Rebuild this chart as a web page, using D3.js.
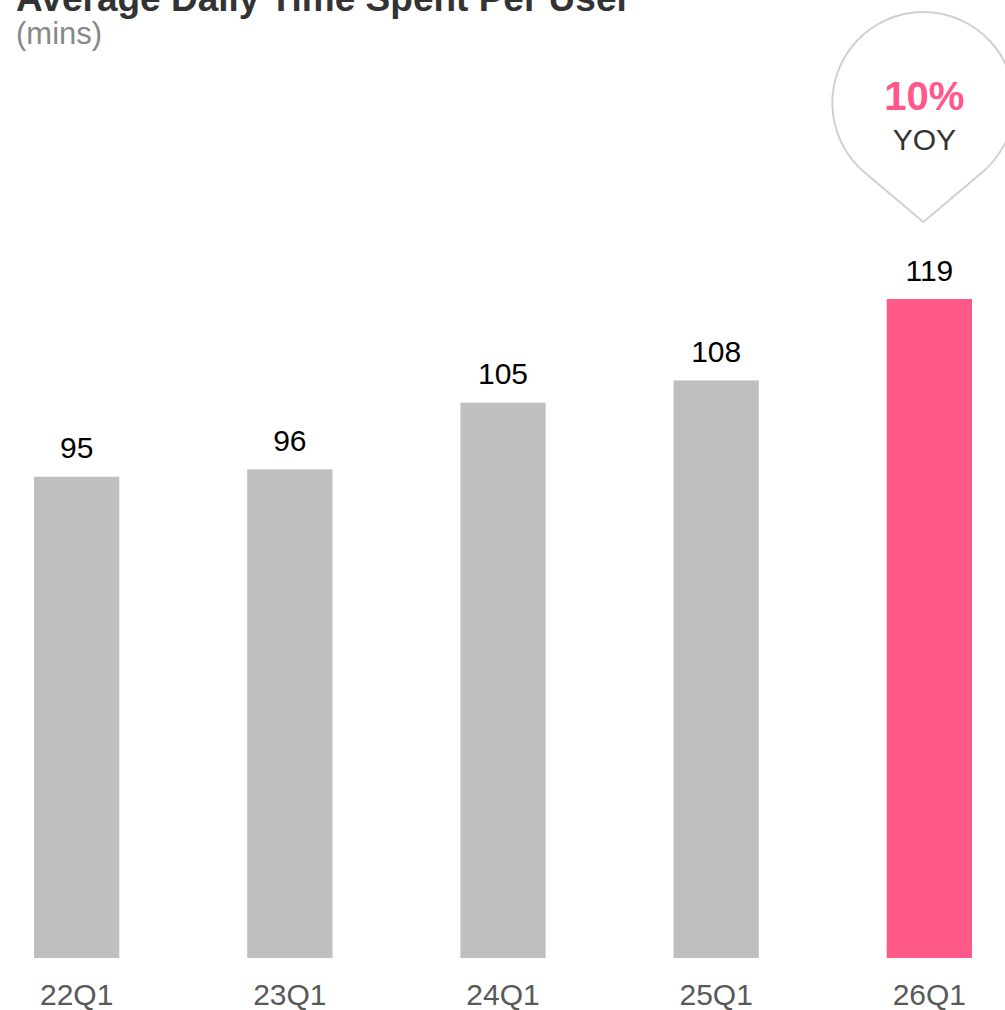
<!DOCTYPE html>
<html>
<head>
<meta charset="utf-8">
<script src="https://cdn.jsdelivr.net/npm/d3@7"></script>
<style>
  html, body { margin: 0; padding: 0; background: #fff; }
  svg { display: block; font-family: "Liberation Sans", Arial, sans-serif; }
</style>
</head>
<body>
<svg id="chart" width="1005" height="1010"></svg>
<script>
// Average daily time spent per user, by first quarter
const quarters = ["22Q1", "23Q1", "24Q1", "25Q1", "26Q1"];
const minutes = [95, 96, 105, 108, 119];
const highlightQuarter = "26Q1";
const yoyLabel = "10%";
const yoyText = "YOY";
const titleText = "Average Daily Time Spent Per User";
const unitText = "(mins)";

const W = 1005, H = 1010;
const svg = d3.select("#chart");

const x = d3.scaleBand()
  .domain(quarters)
  .range([12.7, 993.3])
  .paddingInner(0.6)
  .paddingOuter(0.1);

// value axis starts above zero, as in the original deck
const y = d3.scaleLinear()
  .domain([30, 150])
  .range([958, 69.5]);

// title (running off the top edge of the slide crop) and unit
svg.append("text")
  .attr("x", 16).attr("y", 11)
  .attr("font-size", 37).attr("font-weight", "bold")
  .attr("fill", "#333333")
  .text(titleText);

svg.append("text")
  .attr("x", 16).attr("y", 43.5)
  .attr("font-size", 31)
  .attr("fill", "#888888")
  .text(unitText);

const data = quarters.map((q, i) => ({ q, v: minutes[i] }));

svg.append("g").selectAll("rect")
  .data(data)
  .join("rect")
  .attr("x", d => x(d.q))
  .attr("width", x.bandwidth())
  .attr("y", d => y(d.v))
  .attr("height", d => y.range()[0] - y(d.v))
  .attr("fill", d => d.q === highlightQuarter ? "#FF5889" : "#BFBFBF");

// value labels
svg.append("g").selectAll("text")
  .data(data)
  .join("text")
  .attr("x", d => x(d.q) + x.bandwidth() / 2)
  .attr("y", d => y(d.v) - 18.5)
  .attr("text-anchor", "middle")
  .attr("font-size", 30)
  .attr("fill", "#000000")
  .text(d => d.v);

// category axis
const xAxis = svg.append("g")
  .attr("transform", "translate(0,958)")
  .call(d3.axisBottom(x).tickSize(0).tickPadding(0));
xAxis.select(".domain").remove();
xAxis.selectAll("text")
  .attr("y", 47)
  .attr("dy", null)
  .attr("font-size", 30)
  .attr("font-family", "Liberation Sans, Arial, sans-serif")
  .attr("fill", "#595959");

// YoY teardrop callout above the highlighted bar
const cx = x(highlightQuarter) + x.bandwidth() / 2 - 6;
const cy = 103, r = 91, tipY = 222;
const d = tipY - cy;
const th = Math.acos(r / d);
const tx = r * Math.sin(th), ty = r * Math.cos(th);
const drop = d3.path();
drop.moveTo(cx, tipY);
drop.lineTo(cx - tx, cy + ty);
drop.arc(cx, cy, r, Math.PI / 2 + th, Math.PI / 2 - th + 2 * Math.PI, false);
drop.closePath();
svg.append("path")
  .attr("d", drop.toString())
  .attr("fill", "#ffffff")
  .attr("stroke", "#D0D0D0")
  .attr("stroke-width", 2);

svg.append("text")
  .attr("x", cx + 1).attr("y", 110)
  .attr("text-anchor", "middle")
  .attr("font-size", 40).attr("font-weight", "bold")
  .attr("fill", "#FF5889")
  .text(yoyLabel);

svg.append("text")
  .attr("x", cx + 1).attr("y", 150)
  .attr("text-anchor", "middle")
  .attr("font-size", 30)
  .attr("fill", "#333333")
  .text(yoyText);
</script>
</body>
</html>
